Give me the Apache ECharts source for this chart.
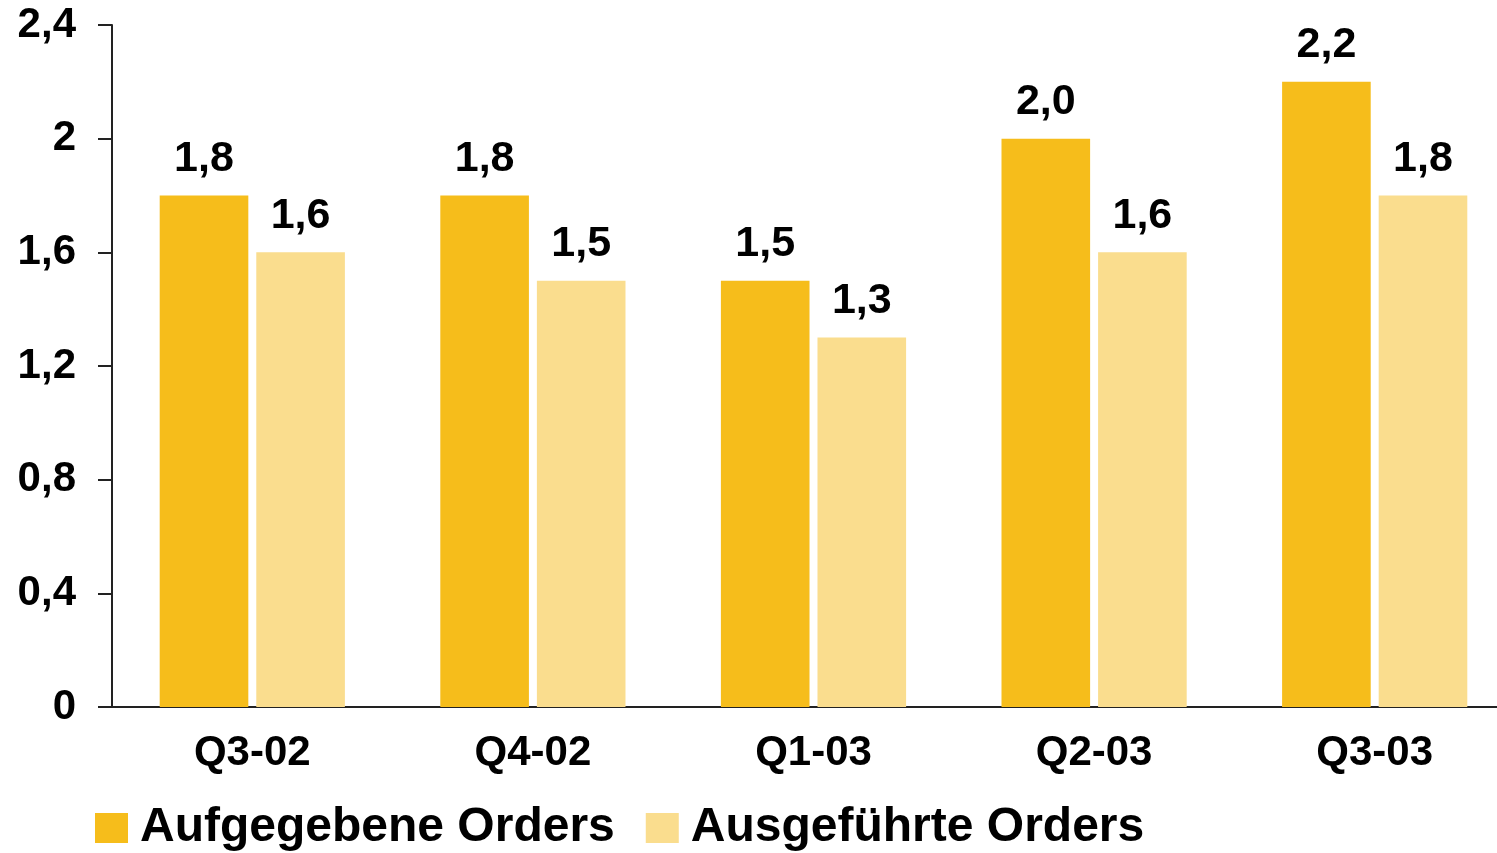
<!DOCTYPE html>
<html>
  <head>
    <meta charset="UTF-8" />
    <title>Orders</title>
    <script src="https://cdn.jsdelivr.net/npm/echarts@6.0.0/dist/echarts.min.js"></script>
    <style>
      html, body { margin: 0; padding: 0; background: #fff; }
    </style>
  </head>
  <body>
    <div id="ordersChart" style="width: 1497px; height: 853px"></div>
  </body>
  <script>
    // data
    const quarters = ['Q3-02', 'Q4-02', 'Q1-03', 'Q2-03', 'Q3-03'];
    const placedOrders = [1.8, 1.8, 1.5, 2.0, 2.2];
    const executedOrders = [1.6, 1.5, 1.3, 1.6, 1.8];
    const seriesNames = ['Aufgegebene Orders', 'Ausgeführte Orders'];

    const font = '"Liberation Sans", Arial, sans-serif';
    const comma = v => String(v).replace('.', ',');

    let myChart = echarts.init(document.getElementById('ordersChart'));

    const labelStyle = {
      show: true,
      position: 'top',
      distance: 15,
      fontFamily: font,
      fontWeight: 'bold',
      fontSize: 43,
      color: '#000',
      formatter: p => p.value.toFixed(1).replace('.', ',')
    };

    myChart.setOption({
      animation: false,
      // the last category runs a little past the right edge of the picture
      grid: { left: 112, top: 25, width: 1403, height: 682, outerBoundsMode: 'none' },
      legend: {
        data: seriesNames,
        left: 95,
        top: 804,
        padding: 0,
        itemWidth: 33,
        itemHeight: 30,
        itemGap: 31,
        icon: 'rect',
        textStyle: {
          fontFamily: font,
          fontWeight: 'bold',
          fontSize: 48,
          lineHeight: 48,
          color: '#000',
          padding: [0, 0, 0, 7]
        }
      },
      xAxis: {
        type: 'category',
        data: quarters,
        axisLine: { lineStyle: { color: '#222', width: 2 } },
        axisTick: { length: 14, lineStyle: { color: '#222', width: 2 } },
        axisLabel: {
          margin: 25,
          fontFamily: font,
          fontWeight: 'bold',
          fontSize: 42,
          color: '#000'
        }
      },
      yAxis: {
        type: 'value',
        min: 0,
        max: 2.4,
        interval: 0.4,
        splitLine: { show: false },
        axisLine: { show: true, lineStyle: { color: '#222', width: 2 } },
        axisTick: { show: true, length: 14, lineStyle: { color: '#222', width: 2 } },
        axisLabel: {
          margin: 36,
          fontFamily: font,
          fontWeight: 'bold',
          fontSize: 42,
          color: '#000',
          formatter: comma
        }
      },
      series: [
        {
          name: seriesNames[0],
          type: 'bar',
          data: placedOrders,
          barGap: '9%',
          barCategoryGap: '34%',
          itemStyle: { color: '#F6BD1B' },
          label: labelStyle
        },
        {
          name: seriesNames[1],
          type: 'bar',
          data: executedOrders,
          itemStyle: { color: '#FADD8E' },
          label: labelStyle
        }
      ]
    });
  </script>
</html>
